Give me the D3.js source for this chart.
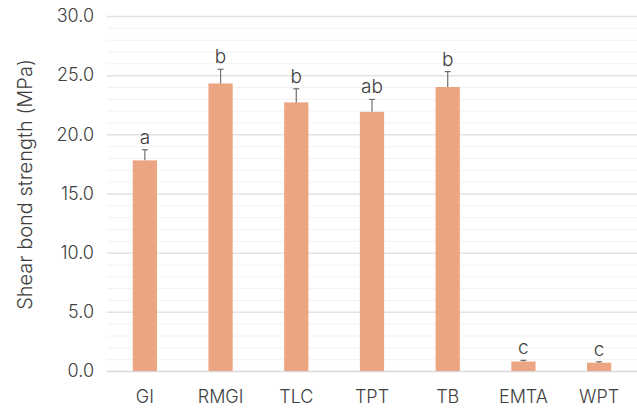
<!DOCTYPE html>
<html>
<head>
<meta charset="utf-8">
<script src="https://cdn.jsdelivr.net/npm/d3@7"></script>
<style>
  body { margin: 0; background: #fff; }
  text { font-family: Inter, Roboto, sans-serif; fill: #404040; font-weight: 300; }
</style>
</head>
<body>
<svg id="chart"></svg>
<script>
const width = 637;
const height = 411;

const margin = {top: 16, right: 0, bottom: 40, left: 107};

// Groups and their mean / SD values
const groups = ["GI", "RMGI", "TLC", "TPT", "TB", "EMTA", "WPT"];
const means = [17.8, 24.3, 22.7, 21.9, 24.0, 0.8, 0.7];
const sds = [0.9, 1.2, 1.15, 1.05, 1.3, 0.1, 0.08];
const letters = ["a", "b", "b", "ab", "b", "c", "c"];

const yTicks = [0, 5, 10, 15, 20, 25, 30];
const yMinor = d3.range(0, 31, 1);

const svg = d3.select("#chart")
    .attr("width", width)
    .attr("height", height);

let x = d3.scaleBand()
    .domain(groups)
    .range([margin.left, width - margin.right])
    .paddingInner(0.68)
    .paddingOuter(0.34);

let y = d3.scaleLinear()
    .domain([0, 30])
    .range([height - margin.bottom, margin.top]);

// minor gridlines first, then the major ones on top
svg.append("g")
    .selectAll("line")
    .data(yMinor.filter(d => d % 5 !== 0))
    .join("line")
    .attr("x1", margin.left)
    .attr("x2", width - margin.right)
    .attr("y1", d => y(d) + 0.5)
    .attr("y2", d => y(d) + 0.5)
    .style("stroke", "#f2f2f2")
    .style("stroke-width", 1);

svg.append("g")
    .selectAll("line")
    .data(yTicks)
    .join("line")
    .attr("x1", margin.left)
    .attr("x2", width - margin.right)
    .attr("y1", d => y(d) + 0.5)
    .attr("y2", d => y(d) + 0.5)
    .style("stroke", d => d === 0 ? "#d9d9d9" : "#e2e2e2")
    .style("stroke-width", 1.5);

// y axis labels
let yAxis = d3.axisLeft(y)
    .tickValues(yTicks)
    .tickFormat(d3.format(".1f"))
    .tickSize(0)
    .tickPadding(13);

let gy = svg.append("g")
    .attr("transform", `translate(${margin.left},0)`)
    .call(yAxis);
gy.select(".domain").remove();
gy.selectAll("text")
    .style("font-size", "18px")
    .style("font-family", "Inter, Roboto, sans-serif")
    .attr("fill", "#404040");

// x axis labels
let xAxis = d3.axisBottom(x).tickSize(0).tickPadding(19);
let gx = svg.append("g")
    .attr("transform", `translate(0,${height - margin.bottom})`)
    .call(xAxis);
gx.select(".domain").remove();
gx.selectAll("text")
    .style("font-size", "18px")
    .style("font-family", "Inter, Roboto, sans-serif")
    .attr("fill", "#404040");

// bars
svg.append("g")
    .selectAll("rect")
    .data(groups)
    .join("rect")
    .attr("x", d => x(d))
    .attr("y", (d, i) => y(means[i]))
    .attr("width", x.bandwidth())
    .attr("height", (d, i) => y(0) - y(means[i]))
    .style("fill", "#eca582");

// error bars (upper half only, with cap)
let eb = svg.append("g")
    .style("stroke", "#707070")
    .style("stroke-width", 1.2);

groups.forEach((g, i) => {
    let cx = x(g) + x.bandwidth() / 2;
    eb.append("line")
        .attr("x1", cx).attr("x2", cx)
        .attr("y1", y(means[i]))
        .attr("y2", y(means[i] + sds[i]));
    eb.append("line")
        .attr("x1", cx - 3).attr("x2", cx + 3)
        .attr("y1", y(means[i] + sds[i]))
        .attr("y2", y(means[i] + sds[i]));
});

// significance letters
svg.append("g")
    .selectAll("text")
    .data(groups)
    .join("text")
    .attr("x", d => x(d) + x.bandwidth() / 2)
    .attr("y", (d, i) => y(means[i] + sds[i]) - 6)
    .attr("text-anchor", "middle")
    .style("font-size", "19px")
    .text((d, i) => letters[i]);

// y axis title
svg.append("text")
    .attr("transform", `translate(32,${(margin.top + height - margin.bottom) / 2 - 9}) rotate(-90)`)
    .attr("text-anchor", "middle")
    .style("font-size", "20px")
    .text("Shear bond strength (MPa)");
</script>
</body>
</html>
